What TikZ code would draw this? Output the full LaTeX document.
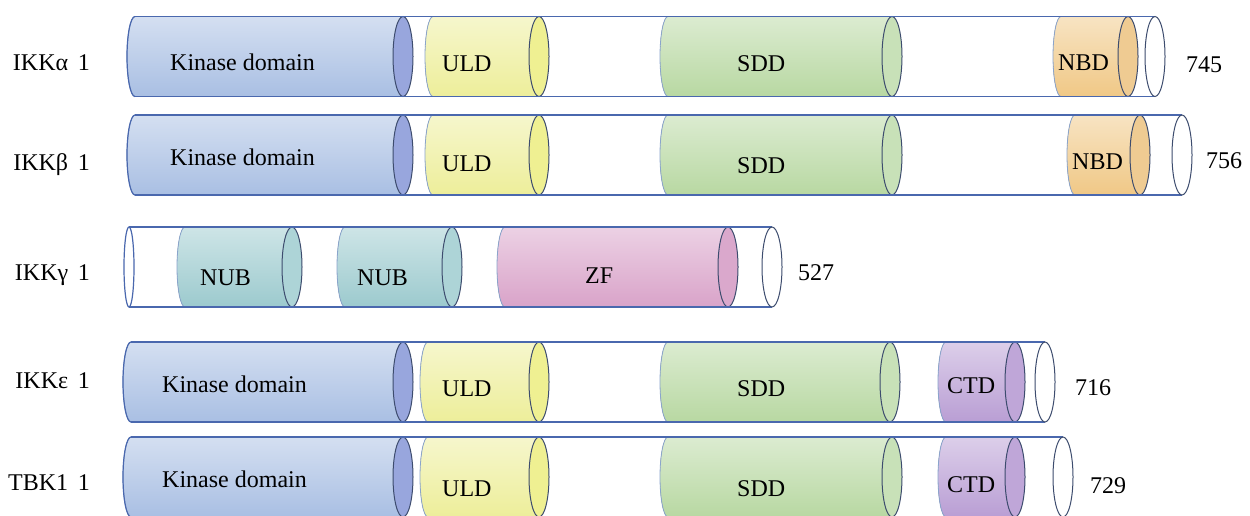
\documentclass[tikz,border=0pt]{standalone}
\usepackage{fontspec}
\setmainfont{Liberation Serif}
\usepackage{tikz}

\definecolor{tubeblue}{HTML}{4A68AE}
\definecolor{capgrey}{HTML}{3D4C6E}
\definecolor{arcblue}{HTML}{8AA4CC}
\definecolor{kincol}{HTML}{A9BFE3}
\definecolor{kincap}{HTML}{98A6DD}
\definecolor{uldcol}{HTML}{EDEE9A}
\definecolor{uldcap}{HTML}{EFF092}
\definecolor{sddcol}{HTML}{B8D8A2}
\definecolor{sddcap}{HTML}{C8E1B8}
\definecolor{nbdcol}{HTML}{F0C886}
\definecolor{nbdcap}{HTML}{EFCB92}
\definecolor{nubcol}{HTML}{9CCACE}
\definecolor{nubcap}{HTML}{ADD4D7}
\definecolor{zfcol}{HTML}{D9A3C9}
\definecolor{zfcap}{HTML}{DAA8CC}
\definecolor{ctdcol}{HTML}{B99ED4}
\definecolor{ctdcap}{HTML}{BFA6D8}

\tikzset{
  tubeline/.style={draw=tubeblue, line width=1.2pt},
  capline/.style={draw=capgrey, line width=1pt},
  lbl/.style={anchor=base west, inner sep=0pt, font=\fontsize{24}{28}\selectfont},
  protlbl/.style={lbl, anchor=base east}
}

% #1 leftmost x, #2 cap x, #3 centre y, #4 body colour, #5 cap colour
\newcommand{\domain}[5]{%
  \fill[top color=#4!50!white, bottom color=#4] (#1+8,#3-40) -- (#2,#3-40) -- (#2,#3+40) -- (#1+8,#3+40)
    arc[start angle=270,end angle=90,x radius=8pt,y radius=40pt] -- cycle;
  \draw[arcblue, line width=0.8pt] (#1+8,#3+40) arc[start angle=270,end angle=90,x radius=8pt,y radius=40pt];
  \filldraw[capline, fill=#5] (#2,#3) ellipse[x radius=10pt,y radius=40pt];
}
% #1 leftmost x, #2 end x, #3 centre y
\newcommand{\tube}[3]{%
  \draw[tubeline] (#1+8,#3-40) -- (#2,#3-40) (#1+8,#3+40) -- (#2,#3+40);
  \draw[tubeline] (#1+8,#3+40) arc[start angle=270,end angle=90,x radius=8pt,y radius=40pt];
  \filldraw[capline, fill=white] (#2,#3) ellipse[x radius=10pt,y radius=40pt];
}

\begin{document}
\begin{tikzpicture}[x=1pt,y=-1pt]
\fill[white] (0,0) rectangle (1250,515);
\useasboundingbox (0,0) rectangle (1250,515);

% First row
\domain{127}{403}{56.5}{kincol}{kincap}
\domain{425}{539}{56.5}{uldcol}{uldcap}
\domain{660}{892}{56.5}{sddcol}{sddcap}
\domain{1053}{1128}{56.5}{nbdcol}{nbdcap}
\tube{127}{1155}{56.5}
\node [protlbl] at (90,70) (alpha) {IKKα\hspace{0.4em}1};
\node [lbl] at (170,70) (alpha_kin) {Kinase domain};
\node [lbl] at (442,71) (alpha_uld) {ULD};
\node [lbl] at (737,71) (alpha_sdd) {SDD};
\node [lbl] at (1058,70) (alpha_nbd) {NBD};
\node [lbl] at (1186,72) (alpha_len) {745};

% Second row
\domain{127}{403}{155}{kincol}{kincap}
\domain{425}{539}{155}{uldcol}{uldcap}
\domain{660}{892}{155}{sddcol}{sddcap}
\domain{1067}{1140}{155}{nbdcol}{nbdcap}
\tube{127}{1182}{155}
\node [protlbl] at (90,170) (beta) {IKKβ\hspace{0.4em}1};
\node [lbl] at (170,165) (beta_kin) {Kinase domain};
\node [lbl] at (442,171) (beta_uld) {ULD};
\node [lbl] at (737,173) (beta_sdd) {SDD};
\node [lbl] at (1072,169) (beta_nbd) {NBD};
\node [lbl] at (1206,168) (beta_len) {756};

% Third row
\domain{177}{292}{267}{nubcol}{nubcap}
\domain{337}{452}{267}{nubcol}{nubcap}
\domain{497}{728}{267}{zfcol}{zfcap}
\draw[tubeline] (129,227) -- (772,227) (129,307) -- (772,307);
\draw[tubeline] (129,267) ellipse[x radius=5pt,y radius=40pt];
\filldraw[capline, fill=white] (772,267) ellipse[x radius=10pt,y radius=40pt];
\node [protlbl] at (90,280) (gamma) {IKKγ\hspace{0.4em}1};
\node [lbl] at (200,285) (gamma_nub1) {NUB};
\node [lbl] at (357,285) (gamma_nub2) {NUB};
\node [lbl] at (585,283) (gamma_zf) {ZF};
\node [lbl] at (798,280) (gamma_len) {527};

% Fourth row
\domain{123}{403}{382}{kincol}{kincap}
\domain{420}{539}{382}{uldcol}{uldcap}
\domain{660}{890}{382}{sddcol}{sddcap}
\domain{938}{1015}{382}{ctdcol}{ctdcap}
\tube{123}{1045}{382}
\node [protlbl] at (90,388) (eps) {IKKε\hspace{0.4em}1};
\node [lbl] at (162,392) (eps_kin) {Kinase domain};
\node [lbl] at (442,396) (eps_uld) {ULD};
\node [lbl] at (737,396) (eps_sdd) {SDD};
\node [lbl] at (947,393) (eps_ctd) {CTD};
\node [lbl] at (1075,395) (eps_len) {716};

% Fifth row
\domain{123}{403}{477}{kincol}{kincap}
\domain{420}{539}{477}{uldcol}{uldcap}
\domain{660}{892}{477}{sddcol}{sddcap}
\domain{938}{1015}{477}{ctdcol}{ctdcap}
\tube{123}{1063}{477}
\node [protlbl] at (90,490) (tbk) {TBK1\hspace{0.4em}1};
\node [lbl] at (162,487) (tbk_kin) {Kinase domain};
\node [lbl] at (442,496) (tbk_uld) {ULD};
\node [lbl] at (737,496) (tbk_sdd) {SDD};
\node [lbl] at (947,492) (tbk_ctd) {CTD};
\node [lbl] at (1090,493) (tbk_len) {729};

\end{tikzpicture}
\end{document}
